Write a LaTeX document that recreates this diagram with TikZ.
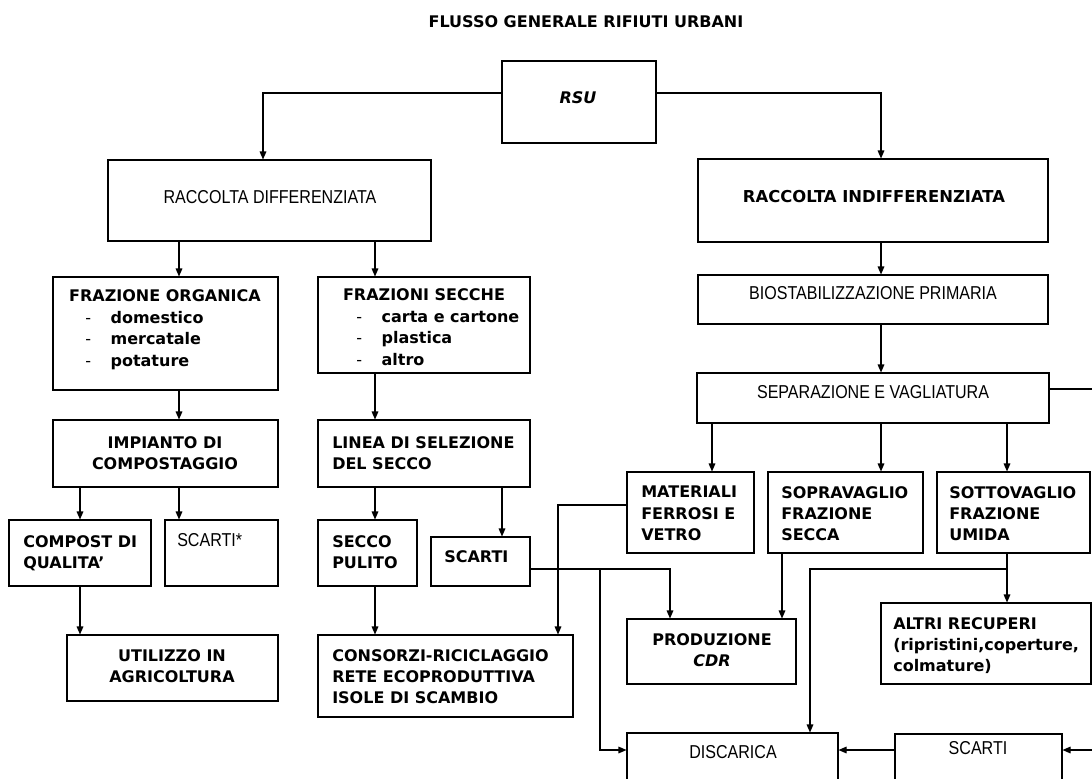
\documentclass[tikz,border=0pt]{standalone}
\usepackage{fontspec}
\setmainfont{DejaVu Sans}
\newfontfamily\narrowfont[FakeStretch=0.86]{Liberation Sans}
\usetikzlibrary{arrows.meta,positioning,fit}
\tikzset{
  box/.style={draw, line width=0.8pt, inner sep=0pt},
  bt/.style={font=\bfseries\fontsize{12}{16}\selectfont, inner sep=0pt, align=left},
  nt/.style={font=\narrowfont\fontsize{14}{16}\selectfont, inner sep=0pt},
  arrow/.style={-{Triangle[length=6pt,width=5pt]}, line width=0.8pt},
  link/.style={line width=0.8pt}
}
\newcommand{\trat}{\makebox[19pt][l]{\mdseries -}}

\begin{document}
\begin{tikzpicture}[x=0.75pt, y=-0.75pt]
    \useasboundingbox (0,0) rectangle (1092,778);
    % Title
    \node[bt, font=\bfseries\fontsize{12}{16}\selectfont] (titolo) at (586,22) {FLUSSO GENERALE RIFIUTI URBANI};
    % Boxes
    \node[box, fit={(502,61) (656,143)}] (rsu) {};
    \node[box, fit={(108,160) (431,241)}] (rd) {};
    \node[box, fit={(698,159) (1048,242)}] (ri) {};
    \node[box, fit={(698,275) (1048,324)}] (bio) {};
    \node[box, fit={(697,373) (1049,423)}] (sep) {};
    \node[box, fit={(53,277) (278,390)}] (fo) {};
    \node[box, fit={(318,277) (530,373)}] (fs) {};
    \node[box, fit={(53,420) (278,487)}] (imp) {};
    \node[box, fit={(318,420) (530,487)}] (lin) {};
    \node[box, fit={(9,520) (151,586)}] (comp) {};
    \node[box, fit={(165,520) (278,586)}] (sc1) {};
    \node[box, fit={(67,635) (278,701)}] (uti) {};
    \node[box, fit={(318,520) (417,586)}] (sp) {};
    \node[box, fit={(431,537) (530,586)}] (sc2) {};
    \node[box, fit={(318,635) (573,717)}] (con) {};
    \node[box, fit={(627,472) (754,553)}] (mat) {};
    \node[box, fit={(768,472) (923,553)}] (sop) {};
    \node[box, fit={(937,472) (1090,553)}] (sot) {};
    \node[box, fit={(881,603) (1091,684)}] (alt) {};
    \node[box, fit={(627,619) (796,684)}] (cdr) {};
    \node[box, fit={(627,733) (838,800)}] (dis) {};
    \node[box, fit={(895,734) (1062,800)}] (sc3) {};
    % Texts
    \node[bt, font=\bfseries\itshape\fontsize{12}{16}\selectfont] (rsu-t) at (578,98) {RSU};
    \node[nt] (rd-t) at (270,197) {RACCOLTA DIFFERENZIATA};
    \node[bt, font=\bfseries\fontsize{12.3}{16}\selectfont] (ri-t) at (874,197) {RACCOLTA INDIFFERENZIATA};
    \node[nt] (bio-t) at (873,293) {BIOSTABILIZZAZIONE PRIMARIA};
    \node[nt] (sep-t) at (873,392) {SEPARAZIONE E VAGLIATURA};
    \node[bt] (fo-t) at (165,296) {FRAZIONE ORGANICA};
    \node[bt, anchor=north west] (fo-l) at (85,311) {\trat domestico\\\trat mercatale\\\trat potature};
    \node[bt] (fs-t) at (424,295) {FRAZIONI SECCHE};
    \node[bt, anchor=north west] (fs-l) at (356,311) {\trat carta e cartone\\\trat plastica\\\trat altro};
    \node[bt, align=center, anchor=north] (imp-t) at (165,436) {IMPIANTO DI\\COMPOSTAGGIO};
    \node[bt, anchor=north west] (lin-t) at (332,436) {LINEA DI SELEZIONE\\DEL SECCO};
    \node[bt, anchor=north west] (comp-t) at (23,535) {COMPOST DI\\QUALITA’};
    \node[nt, anchor=west] (sc1-t) at (177,540) {SCARTI*};
    \node[bt, align=center, anchor=north] (uti-t) at (172,649) {UTILIZZO IN\\AGRICOLTURA};
    \node[bt, anchor=north west] (sp-t) at (332,535) {SECCO\\PULITO};
    \node[bt, anchor=west] (sc2-t) at (444,557) {SCARTI};
    \node[bt, anchor=north west] (con-t) at (332,649) {CONSORZI-RICICLAGGIO\\RETE ECOPRODUTTIVA\\ISOLE DI SCAMBIO};
    \node[bt, anchor=north west] (mat-t) at (641,486) {MATERIALI\\FERROSI E\\VETRO};
    \node[bt, anchor=north west] (sop-t) at (781,486) {SOPRAVAGLIO\\FRAZIONE\\SECCA};
    \node[bt, anchor=north west] (sot-t) at (949,486) {SOTTOVAGLIO\\FRAZIONE\\UMIDA};
    \node[bt, anchor=north west] (alt-t) at (893,617) {ALTRI RECUPERI\\(ripristini,coperture,\\colmature)};
    \node[bt, align=center, anchor=north] (cdr-t) at (712,633) {PRODUZIONE\\\textit{CDR}};
    \node[nt] (dis-t) at (733,752) {DISCARICA};
    \node[nt] (sc3-t) at (978,748) {SCARTI};
    % Lanes
    \coordinate (colA) at (80,0);
    \coordinate (colB) at (179,0);
    \coordinate (colC) at (375,0);
    \coordinate (colD) at (502,0);
    \coordinate (colE) at (558,0);
    \coordinate (colF) at (600,0);
    \coordinate (colG) at (670,0);
    \coordinate (colH) at (712,0);
    \coordinate (colI) at (782,0);
    \coordinate (colJ) at (810,0);
    \coordinate (colK) at (881,0);
    \coordinate (colL) at (1007,0);
    \coordinate (colM) at (1100,0);
    \coordinate (colN) at (263,0);
    \coordinate (rowA) at (0,93);
    \coordinate (rowB) at (0,505);
    \coordinate (rowC) at (0,569);
    \coordinate (rowD) at (0,750);
    \coordinate (rowE) at (0,389);
    % Connectors
    \draw[arrow] (rsu.west |- rowA) -| (rd.north -| colN);
    \draw[arrow] (rsu.east |- rowA) -| (ri.north -| colK);
    \draw[arrow] (rd.south -| colB) -- (fo.north -| colB);
    \draw[arrow] (rd.south -| colC) -- (fs.north -| colC);
    \draw[arrow] (ri.south -| colK) -- (bio.north -| colK);
    \draw[arrow] (bio.south -| colK) -- (sep.north -| colK);
    \draw[arrow] (fo.south -| colB) -- (imp.north -| colB);
    \draw[arrow] (fs.south -| colC) -- (lin.north -| colC);
    \draw[arrow] (imp.south -| colA) -- (comp.north -| colA);
    \draw[arrow] (imp.south -| colB) -- (sc1.north -| colB);
    \draw[arrow] (comp.south -| colA) -- (uti.north -| colA);
    \draw[arrow] (lin.south -| colC) -- (sp.north -| colC);
    \draw[arrow] (lin.south -| colD) -- (sc2.north -| colD);
    \draw[arrow] (sp.south -| colC) -- (con.north -| colC);
    \draw[arrow] (sep.south -| colH) -- (mat.north -| colH);
    \draw[arrow] (sep.south -| colK) -- (sop.north -| colK);
    \draw[arrow] (sep.south -| colL) -- (sot.north -| colL);
    \draw[arrow] (mat.west |- rowB) -| (con.north -| colE);
    \draw[arrow] (sc2.east |- rowC) -| (cdr.north -| colG);
    \draw[arrow] (colF |- rowC) |- (dis.west |- rowD);
    \draw[arrow] (sop.south -| colI) -- (cdr.north -| colI);
    \draw[arrow] (sot.south -| colL) -- (alt.north -| colL);
    \draw[arrow] (colL |- rowC) -| (dis.north -| colJ);
    \draw[arrow] (sc3.west |- rowD) -- (dis.east |- rowD);
    \draw[arrow] (sep.east |- rowE) -| (colM |- rowD) -- (sc3.east |- rowD);
\end{tikzpicture}
\end{document}
